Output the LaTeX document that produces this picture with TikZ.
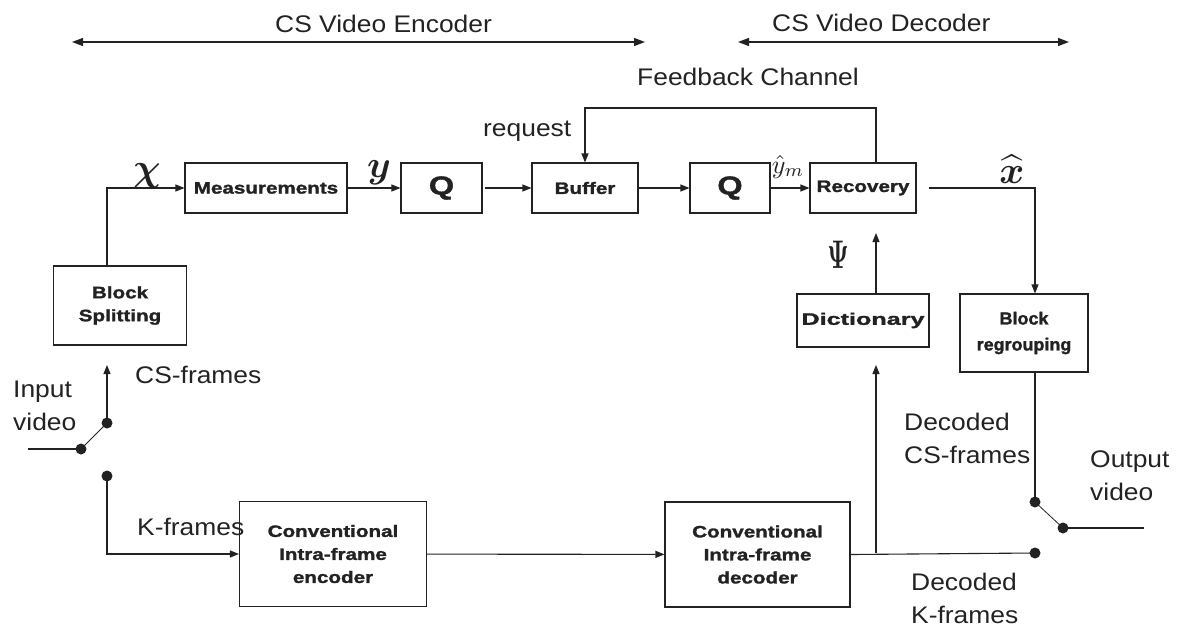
\documentclass[tikz,border=0pt]{standalone}
\usepackage{amsmath}
\usepackage{fontspec}
\setmainfont{Liberation Sans}[FakeStretch=1.1]
\newfontfamily\boxfont{Liberation Sans}[FakeStretch=1.25, BoldFeatures={FakeBold=1.6}]
\usetikzlibrary{arrows.meta}
\definecolor{ink}{HTML}{222222}
\tikzset{
  blk/.style={draw=ink, line width=1.1pt, inner sep=0pt, align=center, text=ink,
    font=\boxfont\bfseries\fontsize{16.5}{23}\selectfont},
  qblk/.style={blk, font=\boxfont\bfseries\fontsize{26}{28}\selectfont},
  lbl/.style={font=\fontsize{24}{33}\selectfont, text=ink, inner sep=0pt, anchor=base west},
  arr/.style={draw=ink, line width=1.1pt, -{Triangle[length=9pt,width=7pt]}},
  ln/.style={draw=ink, line width=1.1pt},
  dot/.style={circle, fill=ink, inner sep=0pt, minimum size=11pt},
  darr/.style={draw=ink, line width=1.3pt, {Triangle[length=11pt,width=8pt]}-{Triangle[length=11pt,width=8pt]}},
  sym/.style={inner sep=0pt, anchor=base, text=ink}
}
\begin{document}
\begin{tikzpicture}[x=1pt,y=-1pt]
\useasboundingbox (0,0) rectangle (1177,626);

% top range arrows
\coordinate (encL) at (72,42);
\coordinate (encR) at (645,42);
\coordinate (decL) at (738,42);
\coordinate (decR) at (1069,42);
\draw[darr] (encL) -- (encR);
\draw[darr] (decL) -- (decR);
\node[lbl] (tEnc) at (275,33) {CS Video Encoder};
\node[lbl] (tDec) at (772,32) {CS Video Decoder};
\node[lbl] (tFb) at (637,85) {Feedback Channel};
\node[lbl] (tReq) at (483,136) {request};

% main row
\node[blk, minimum width=162pt, minimum height=50pt] (meas) at (266,188) {Measurements};
\node[qblk, minimum width=81pt, minimum height=50pt] (q1) at (441.5,188) {Q};
\node[blk, minimum width=106pt, minimum height=50pt] (buf) at (585,188) {Buffer};
\node[qblk, minimum width=80pt, minimum height=50pt] (q2) at (730,188) {Q};
\node[blk, minimum width=106pt, minimum height=50pt] (rec) at (863,188) {Recovery};

\node[blk, minimum width=133pt, minimum height=79pt] (bs) at (120,305.5) {Block\\Splitting};
\node[blk, minimum width=132pt, minimum height=53pt] (dict) at (863,320.5) {\scalebox{1.22}[1]{Dictionary}};
\node[blk, minimum width=128pt, minimum height=78pt, font=\boxfont\bfseries\fontsize{17.5}{26}\selectfont] (reg) at (1024,333) {\scalebox{0.82}[1]{Block}\\\scalebox{0.82}[1]{regrouping}};
\node[blk, minimum width=187pt, minimum height=105pt] (enc) at (333,554) {Conventional\\Intra-frame\\encoder};
\node[blk, minimum width=185pt, minimum height=105pt] (dec) at (757.5,554.5) {Conventional\\Intra-frame\\decoder};

% input switch
\coordinate (inL) at (28,449);
\node[dot] (sA) at (81,449) {};
\node[dot] (sB) at (107,423) {};
\node[dot] (sC) at (107,476) {};
\coordinate (csTip) at (107,365);
\draw[ln] (inL) -- (sA.center);
\draw[draw=ink, line width=0.8pt] (sA.center) -- (sB.center);
\draw[arr] (sB.center) -- (csTip);
\draw[arr] (sC.center) |- (enc.west);
\draw[arr] (bs.north -| sB) |- (meas.west);

% main row connectors
\draw[arr] (meas) -- (q1);
\draw[arr] ([xshift=2pt]q1.east) -- (buf);
\draw[arr] (buf) -- (q2);
\draw[arr] (q2) -- (rec);

% feedback
\coordinate (fbR) at (876,108);
\coordinate (fbL) at (585,108);
\draw[arr] (rec.north -| fbR) -- (fbR) -- (fbL) -- (buf.north);

% recovery output
\coordinate (xr) at (1035,188);
\draw[arr] ([xshift=12pt]rec.east) -- (xr) -- (reg.north -| xr);

% output switch
\node[dot] (oA) at (1035,502) {};
\node[dot] (oB) at (1063,528) {};
\node[dot] (oC) at (1035,553) {};
\coordinate (outR) at (1144,528);
\draw[ln] (reg.south -| xr) -- (oA.center);
\draw[draw=ink, line width=0.8pt] (oA.center) -- (oB.center);
\draw[ln] (oB.center) -- (outR);

% encoder -> decoder, decoder outputs
\draw[arr] (enc) -- (dec);
\draw[ln] (dec.east) -- (oC.center);
\coordinate (jn) at (876,553);
\coordinate (dTip) at (876,365);
\coordinate (psiTip) at (876,233);
\draw[arr] (jn) -- (dTip);
\draw[arr] (dict.north -| jn) -- (psiTip);

% math symbols
\node[sym] (chi) at (147,180) {\scalebox{3.8}{$\boldsymbol{\chi}$}};
\node[sym] (ysym) at (379,177) {\scalebox{3.8}{$\boldsymbol{y}$}};
\node[sym] (yhat) at (788,173) {\scalebox{2.6}{$\hat{y}_m$}};
\node[sym] (xhat) at (1012,183) {\scalebox{3.8}{$\widehat{\boldsymbol{x}}$}};
\node[sym] (psi) at (838,268) {\scalebox{2.4}[4.0]{$\boldsymbol{\Psi}$}};

% labels
\node[lbl] (lCS) at (135,383) {CS-frames};
\node[lbl] (lIn1) at (13,397) {Input};
\node[lbl] (lIn2) at (13,430) {video};
\node[lbl] (lK) at (137,535) {K-frames};
\node[lbl] (lDC1) at (904,430) {Decoded};
\node[lbl] (lDC2) at (904,463) {CS-frames};
\node[lbl] (lOut1) at (1090,467) {Output};
\node[lbl] (lOut2) at (1090,500) {video};
\node[lbl] (lDK1) at (911,590) {Decoded};
\node[lbl] (lDK2) at (911,623) {K-frames};
\end{tikzpicture}
\end{document}
